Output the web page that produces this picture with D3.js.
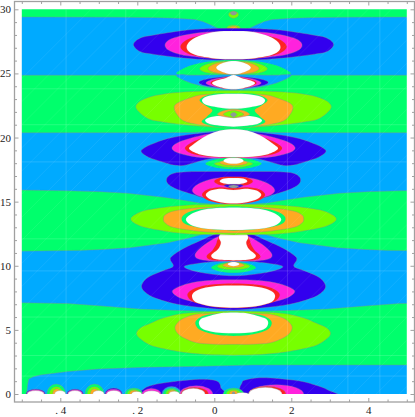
<!DOCTYPE html>
<html><head><meta charset="utf-8">
<style>html,body{margin:0;padding:0;background:#fff;overflow:hidden}svg{display:block}</style>
<script src="https://cdn.jsdelivr.net/npm/d3@7"></script></head>
<body><svg id="c" width="415" height="417"></svg>
<script>
// tick values and labels
const xMajor = [-4,-2,0,2,4];
const xMinor = [-5,-4.5,-3.5,-3,-2.5,-1.5,-1,-0.5,0.5,1,1.5,2.5,3,3.5,4.5,5];
const xLabels = [". 4",". 2","0","2","4"];
const yMajor = [0,5,10,15,20,25,30];
const yMinor = [1,2,3,4,6,7,8,9,11,12,13,14,16,17,18,19,21,22,23,24,26,27,28,29];
const symmetryAxis = 0.5;
// faint mesh seams of the rendered plot (data units)
const meshX = [-3.85,-2.3,-0.9,1.9,3.47,4.3];
const meshY = [23.8,21.0,18.1,12.1,9.6,6.0,3.0,1.4];
const meshDiag = [-8,-7.4,-6.8,-6.2,-5.6,-5,-4.4,-3.8,-3.2,-2.6,-2,-1.4,-.8,-.2,.4,1,1.6,2.2,2.8,3.4,4,4.6,5.2,5.8,6.4,7,7.6,8.2,8.8,9.4,10];

// contours as half profiles [distance from the symmetry axis, y], top to bottom
const bandsHalf = [
 ["blue",[[0,28.3],[.2,28.35],[.36,28.45],[.6,28.8],[.8,29.05],[1,29.2],[1.5,29.3],[2,29.35],[3,29.38],[6,29.4],[6,24.86],[1.5,24.86],[0,24.86]]],
 ["blue",[[0,20.6],[.5,20.5],[1,20.4],[2,20.38],[6,20.37],[6,15.92],[4.35,15.85],[3.5,15.78],[2.76,15.65],[1.83,15.35],[1.3,15.1],[.9,14.9],[0,14.7]]],
 ["blue",[[0,12.6],[.7,12.55],[1.1,12.2],[1.7,11.8],[2.7,11.4],[3.4,11.27],[4,11.2],[6,11.12],[6,7.14],[4.3,7.05],[3.5,6.88],[2.43,6.62],[1.6,6.53],[.87,6.47],[0,6.45]]]
];
const bandLowLeft = [[-4.87,0.1],[-4.85,.7],[-4.82,1.17],[-4.7,1.34],[-4.52,1.48],[-3.8,1.75],[-3,1.95],[-1.8,2.08],[-.5,2.15],[1,2.26],[6.5,2.26],[6.5,-1],[-4.87,-1]];

const crown = [
 ["lime",[[0,29.85],[.1,29.75],[.13,29.6],[.1,29.42],[0,29.3]]],
 ["gray",[[0,29.85],[.09,29.7],[0,29.55]]],
 ["lime",[[0,28.76],[.13,28.7],[.18,28.5],[.13,28.3],[0,28.25]]],
 ["orange",[[0,28.68],[.08,28.62],[.11,28.5],[.08,28.3],[0,28.25]]],
 ["indigo",[[0,28.52],[.7,28.48],[1.3,28.35],[2.1,27.98],[2.43,27.75],[2.6,27.25],[2.43,26.7],[2.1,26.5],[1.3,26.2],[.7,26.07],[0,26.03]]],
 ["magenta",[[0,28.25],[.5,28.25],[.95,28.15],[1.4,27.9],[1.68,27.6],[1.78,27.2],[1.68,26.8],[1.35,26.45],[.9,26.27],[.45,26.17],[0,26.15]]],
 ["red",[[0,28.25],[.45,28.2],[.85,27.95],[1.2,27.65],[1.38,27.1],[1.22,26.6],[.85,26.3],[.45,26.13],[0,26.1]]],
 ["white",[[0,28.3],[.45,28.25],[.85,27.98],[1.12,27.55],[1.22,27.05],[1.12,26.62],[.85,26.33],[.45,26.15],[0,26.1]]]
];
const pair25 = [
 ["green",[[0,26.05],[.5,25.97],[1,25.72],[1.33,25.35],[1.48,24.97],[1.1,24.87],[0,24.82]]],
 ["lime",[[0,25.95],[.45,25.9],[.75,25.65],[.88,25.35],[.72,25.08],[.35,24.95],[0,24.9]]],
 ["orange",[[0,25.9],[.35,25.85],[.58,25.62],[.66,25.35],[.52,25.1],[.25,24.95],[0,24.9]]],
 ["white",[[0,25.97],[.22,25.88],[.38,25.68],[.45,25.45],[.36,25.2],[.18,25],[0,24.92]]],
 ["blue",[[0,24.9],[1,24.86],[1.48,24.88],[1.35,24.55],[1,24.15],[.5,23.83],[0,23.7]]],
 ["indigo",[[0,24.75],[.45,24.68],[.78,24.5],[.9,24.28],[.75,24.05],[.4,23.88],[0,23.8]]],
 ["magenta",[[0,24.75],[.4,24.62],[.62,24.45],[.72,24.25],[.6,24.05],[.35,23.88],[0,23.8]]],
 ["red",[[0,24.8],[.3,24.6],[.52,24.45],[.6,24.25],[.5,24.05],[.28,23.85],[0,23.77]]],
 ["white",[[0,24.88],[.2,24.65],[.45,24.45],[.56,24.25],[.46,24.03],[.25,23.85],[0,23.77]]]
];
const pair22 = [
 ["lime",[[0,23.65],[.7,23.63],[1.3,23.55],[1.8,23.4],[2.17,23.17],[2.42,22.85],[2.54,22.4],[2.42,21.9],[2.17,21.41],[1.8,21.2],[1.3,21],[.7,20.85],[0,20.75]]],
 ["orange",[[0,23.4],[.5,23.38],[.9,23.3],[1.3,22.9],[1.5,22.6],[1.54,22.3],[1.48,21.85],[1.3,21.3],[.9,21],[.4,20.85],[0,20.8]]],
 ["green",[[0,23.45],[.55,23.4],[.88,22.95],[.7,22.45],[.55,22.1],[.7,21.6],[.82,21.2],[.5,20.85],[0,20.75]]],
 ["white",[[0,23.42],[.4,23.38],[.7,23.2],[.82,22.9],[.72,22.55],[.4,22.35],[0,22.25]]],
 ["white",[[0,21.6],[.35,21.7],[.65,21.55],[.74,21.3],[.62,21.05],[.35,20.92],[0,20.85]]],
 ["orange",[[0,22.2],[.25,22.1],[.42,21.8],[.2,21.6],[0,21.55]]],
 ["lime",[[0,22.1],[.17,22],[.27,21.8],[.12,21.62],[0,21.55]]],
 ["gray",[[0,21.95],[.08,21.8],[0,21.6]]]
];
const pair19 = [
 ["indigo",[[0,20.5],[.6,20.42],[1.1,20.25],[1.7,19.93],[2.15,19.45],[2.36,19.1],[2.39,18.85],[2.2,18.45],[1.85,18.1],[1.55,17.85],[1.3,17.82],[.95,18.1],[.6,18.35],[0,18.6]]],
 ["magenta",[[0,20.4],[.6,20.3],[1.05,20],[1.45,19.6],[1.6,19.2],[1.48,18.85],[1.1,18.55],[.6,18.4],[0,18.35]]],
 ["red",[[0,20.6],[.35,20.5],[.7,20.1],[1.1,19.6],[1.26,19.15],[1.05,18.72],[.55,18.48],[0,18.43]]],
 ["white",[[0,20.65],[.35,20.55],[.7,20.15],[1.05,19.45],[1.15,19.1],[.9,18.7],[.5,18.5],[0,18.45]]],
 ["green",[[0,18.45],[.45,18.3],[.73,17.95],[.45,17.65],[0,17.55]]],
 ["lime",[[0,18.3],[.3,18.15],[.5,17.95],[.3,17.75],[0,17.68]]],
 ["orange",[[0,18.3],[.24,18.2],[.36,18.02],[.2,17.85],[0,17.8]]],
 ["white",[[0,18.4],[.2,18.35],[.26,18.15],[.15,18],[0,17.95]]]
];
const pair16 = [
 ["indigo",[[0,17.35],[.7,17.35],[1.2,17.33],[1.55,17.22],[1.72,16.9],[1.72,16.45],[1.5,16],[1.05,15.55],[.7,15.25],[0,15.05]]],
 ["magenta",[[0,16.85],[.4,16.85],[.75,16.6],[.98,16.25],[1.07,15.85],[.95,15.5],[.7,15.28],[.35,15.12],[0,15.1]]],
 ["red",[[0,16.95],[.3,16.9],[.5,16.6],[.35,16.3],[0,16.2]]],
 ["white",[[0,16.85],[.25,16.8],[.36,16.6],[.25,16.42],[0,16.35]]],
 ["indigo",[[0,16.35],[.25,16.28],[.12,16.08],[0,16]]],
 ["gray",[[0,16.3],[.13,16.2],[0,16.05]]],
 ["red",[[0,16.05],[.35,16.12],[.68,15.95],[.82,15.55],[.7,15.15],[.4,14.9],[0,14.8]]],
 ["white",[[0,15.9],[.3,16],[.58,15.88],[.72,15.55],[.62,15.2],[.35,14.95],[0,14.85]]]
];
const pair10 = [
 ["indigo",[[0,12.75],[.45,12.5],[.87,11.95],[1.3,11.35],[1.6,10.75],[1.64,10.45],[1.57,9.95],[1.85,9.6],[2.16,9.2],[2.33,8.8],[2.39,8.36],[2.3,7.95],[2.05,7.5],[1.46,7],[.7,6.7],[0,6.55]]],
 ["blue",[[0,10.4],[.6,10.3],[1.28,9.95],[.8,9.45],[0,9.22]]],
 ["green",[[0,10.3],[.35,10.2],[.58,9.85],[.35,9.55],[0,9.45]]],
 ["lime",[[0,10.3],[.27,10.15],[.42,9.95],[.25,9.75],[0,9.7]]],
 ["orange",[[0,10.3],[.18,10.2],[.28,10.02],[.15,9.88],[0,9.85]]],
 ["white",[[0,10.3],[.12,10.22],[.15,10.1],[.08,10],[0,9.97]]],
 ["magenta",[[0,12.55],[.35,12.35],[.75,11.65],[1,10.85],[.8,10.45],[0,10.35]]],
 ["red",[[0,12.7],[.32,12.4],[.42,12],[.45,11.7],[.55,11.2],[.7,10.75],[.55,10.45],[0,10.38]]],
 ["white",[[0,12.7],[.3,12.55],[.38,12.2],[.33,11.8],[.4,11.3],[.58,10.8],[.45,10.5],[0,10.42]]],
 ["magenta",[[0,8.9],[.5,8.88],[.95,8.75],[1.35,8.45],[1.59,8],[1.35,7.45],[.8,7.05],[.4,6.95],[0,6.92]]],
 ["red",[[0,8.62],[.5,8.55],[.9,8.35],[1.12,8.05],[1.2,7.7],[1.08,7.25],[.78,6.95],[.4,6.75],[0,6.7]]],
 ["white",[[0,8.47],[.45,8.43],[.8,8.25],[1.02,7.95],[1.08,7.6],[1,7.2],[.75,6.95],[.4,6.78],[0,6.72]]]
];
const pair14 = [
 ["lime",[[0,14.8],[.7,14.77],[1.3,14.7],[1.82,14.55],[2.26,14.34],[2.55,14],[2.67,13.65],[2.55,13.28],[2.26,12.96],[1.82,12.72],[1.3,12.52],[.7,12.43],[0,12.4]]],
 ["orange",[[0,14.6],[.5,14.58],[1,14.5],[1.57,14.26],[1.78,13.95],[1.82,13.65],[1.78,13.35],[1.57,13],[1,12.72],[.5,12.6],[0,12.55]]],
 ["green",[[0,14.65],[.5,14.55],[.95,14.38],[1.25,14.05],[1.35,13.65],[1.25,13.25],[.95,13],[.5,12.82],[0,12.75]]],
 ["white",[[0,14.55],[.45,14.5],[.85,14.33],[1.12,14],[1.24,13.6],[1.12,13.2],[.85,12.95],[.45,12.83],[0,12.78]]]
];
const pair5 = [
 ["lime",[[0,6.45],[.7,6.4],[1.3,6.28],[1.8,5.95],[2.17,5.5],[2.42,5.15],[2.52,4.72],[2.42,4.3],[2.17,3.82],[1.8,3.52],[1.3,3.25],[.7,3.08],[0,3.03]]],
 ["orange",[[0,6.3],[.5,6.28],[.96,6.22],[1.3,5.9],[1.47,5.5],[1.52,5.15],[1.46,4.75],[1.3,4.39],[.96,4],[.5,3.88],[0,3.87]]],
 ["green",[[0,6.35],[.4,6.28],[.75,6.12],[.95,5.8],[.99,5.45],[.9,5.05],[.65,4.75],[.35,4.58],[0,4.53]]],
 ["white",[[0,6.36],[.35,6.3],[.68,6.05],[.85,5.85],[.9,5.5],[.82,5.1],[.6,4.88],[.3,4.76],[0,4.73]]]
];

// bottom strip: contours given as plain [x, y] rings
const lowIndigoLeft = [[-1.9,-.2],[-1.85,.35],[-1.6,.7],[-1.1,.95],[-.5,1.13],[-.1,1.12],[.1,.95],[.17,.5],[.15,-.2]];
const lowIndigoRight = [[.67,-.2],[.66,.45],[.71,.8],[.8,1.09],[1.27,1.27],[2.14,1.05],[2.6,.72],[2.95,.32],[3.08,-.2]];
// bumps on y = 0: [x from, x to, crest y, level]
const bumps = [
 [-4.89,-4.39,.38,"indigo"],[-4.87,-4.41,.33,"magenta"],[-4.86,-4.42,.27,"white"],
 [-4.35,-3.86,.78,"green"],[-4.28,-3.93,.57,"lime"],[-4.2,-3.98,.4,"orange"],[-4.15,-3.86,.27,"white"],
 [-3.83,-3.4,.38,"indigo"],[-3.81,-3.42,.33,"magenta"],[-3.8,-3.44,.27,"white"],
 [-3.36,-2.86,.78,"green"],[-3.3,-2.93,.57,"lime"],[-3.22,-3,.4,"orange"],[-3.16,-2.86,.27,"white"],
 [-2.84,-2.39,.47,"indigo"],[-2.82,-2.41,.38,"magenta"],[-2.8,-2.42,.28,"white"],
 [-2.32,-1.86,.46,"green"],[-2.26,-1.92,.36,"lime"],[-2.2,-1.98,.28,"orange"],[-2.15,-1.88,.2,"white"],
 [-1.88,-1.38,.42,"magenta"],[-1.84,-1.41,.25,"white"],
 [-1.36,-.86,.58,"blue"],[-1.33,-.89,.47,"green"],[-1.26,-.95,.38,"lime"],[-1.2,-.99,.3,"orange"],[-1.18,-.9,.22,"white"],
 [-.9,-.04,.64,"magenta"],[-.87,-.15,.52,"red"],[-.85,-.24,.44,"white"],
 [.23,.77,.46,"green"],[.31,.69,.36,"lime"],[.39,.61,.26,"orange"],[.46,.54,.17,"gray"],
 [.89,2.32,.72,"magenta"],[.89,1.86,.6,"red"],[.89,1.76,.52,"white"],[.57,.89,.12,"white"]
];

const levelColor = {green:"#00ff6c",blue:"#00aaff",indigo:"#3100ee",magenta:"#ff22dd",red:"#ff2222",
  lime:"#77ff00",orange:"#ffaa22",white:"#ffffff",gray:"#8f9a9a"};
const levelLine = {green:.15,white:.2,red:.25};

const svg = d3.select("#c");
const x = d3.scaleLinear().domain([-5,5]).range([21.8,406.8]);
const y = d3.scaleLinear().domain([0,30]).range([394,9.3]);
const frame = {l:14.5,r:414.5,t:1.5,b:402};

const defs = svg.append("defs");
defs.append("clipPath").attr("id","plot").append("rect")
  .attr("x",x(-5)).attr("y",y(30)).attr("width",x(5)-x(-5)).attr("height",y(0)-y(30));
const f = defs.append("filter").attr("id","soft").attr("filterUnits","userSpaceOnUse")
  .attr("x",0).attr("y",0).attr("width",415).attr("height",417);
f.append("feGaussianBlur").attr("stdDeviation",0.55);

const clip = svg.append("g").attr("clip-path","url(#plot)");
const g = clip.append("g").attr("filter","url(#soft)");
g.append("rect").attr("x",0).attr("y",0).attr("width",415).attr("height",417).attr("fill",levelColor.green);

const ring = d3.line().x(d=>x(d[0])).y(d=>y(d[1])).curve(d3.curveCatmullRomClosed.alpha(0));
const bandRing = d3.line().x(d=>x(d[0])).y(d=>y(d[1])).curve(d3.curveLinearClosed);
const mirror = p => p.map(d=>[symmetryAxis+d[0],d[1]]).concat(
  p.slice().reverse().filter(d=>d[0]>0).map(d=>[symmetryAxis-d[0],d[1]]));
const paint = (level,pts,gen=ring)=>g.append("path").attr("d",gen(pts)).attr("fill",levelColor[level])
  .attr("stroke","#8c8c8c").attr("stroke-width",.55).attr("stroke-opacity",levelLine[level]??.7);

bandsHalf.forEach(([l,p])=>paint(l,mirror(p),bandRing));
paint("blue",bandLowLeft,bandRing);
[...crown,...pair25,...pair22,...pair19,...pair16,...pair10,...pair14,...pair5]
  .forEach(([l,p])=>paint(l,mirror(p)));
paint("indigo",lowIndigoLeft);
paint("indigo",lowIndigoRight);

g.selectAll("ellipse.bump").data(bumps).join("ellipse").attr("class","bump")
  .attr("cx",d=>x((d[0]+d[1])/2)).attr("cy",y(0))
  .attr("rx",d=>(x(d[1])-x(d[0]))/2).attr("ry",d=>y(0)-y(d[2]))
  .attr("fill",d=>levelColor[d[3]]).attr("stroke","#8c8c8c").attr("stroke-width",.5).attr("stroke-opacity",.7);

// faint mesh
const mesh = clip.append("g").attr("stroke","#fff").attr("fill","none");
mesh.selectAll("line.v").data(meshX).join("line").attr("x1",d=>x(d)).attr("x2",d=>x(d))
  .attr("y1",y(30)).attr("y2",y(0)).attr("stroke-opacity",.14);
mesh.selectAll("line.h").data(meshY).join("line").attr("y1",d=>y(d)).attr("y2",d=>y(d))
  .attr("x1",x(-5)).attr("x2",x(5)).attr("stroke-opacity",.14);
mesh.selectAll("line.d").data(meshDiag).join("line")
  .attr("x1",d=>x(d)-200).attr("y1",y(0)).attr("x2",d=>x(d)+200).attr("y2",y(0)-400)
  .attr("stroke-opacity",.09).attr("stroke-width",.8);

// frame and ticks
svg.append("rect").attr("x",frame.l).attr("y",frame.t).attr("width",frame.r-frame.l).attr("height",frame.b-frame.t)
  .attr("fill","none").attr("stroke","#a0a0a0").attr("stroke-width",1.3);
const ticks = (axis,tx,ty)=>{
  const a = svg.append("g").attr("transform",`translate(${tx},${ty})`).call(axis);
  a.select(".domain").remove();
  a.selectAll("line").attr("stroke","#a0a0a0");
  a.selectAll("text").remove();
};
[[xMajor,4],[xMinor,2.5]].forEach(([v,s])=>{
  ticks(d3.axisBottom(x).tickValues(v).tickSize(-s),0,frame.b);
  ticks(d3.axisTop(x).tickValues(v).tickSize(-s),0,frame.t);
});
[[yMajor,4],[yMinor,2.5]].forEach(([v,s])=>{
  ticks(d3.axisLeft(y).tickValues(v).tickSize(-s),frame.l,0);
  ticks(d3.axisRight(y).tickValues(v).tickSize(-s),frame.r,0);
});
const font = "'Liberation Serif','Times New Roman',serif";
const xl = svg.append("g").attr("transform",`translate(0,${frame.b})`)
  .call(d3.axisBottom(x).tickValues(xMajor).tickSize(0).tickPadding(4).tickFormat((d,i)=>xLabels[i]));
xl.select(".domain").remove();
xl.selectAll("text").attr("font-family",font).attr("font-size",11).attr("fill","#222");
const yl = svg.append("g").attr("transform",`translate(${frame.l},0)`)
  .call(d3.axisLeft(y).tickValues(yMajor).tickSize(0).tickPadding(3.5));
yl.select(".domain").remove();
yl.selectAll("text").attr("font-family",font).attr("font-size",11).attr("fill","#222");
</script></body></html>
